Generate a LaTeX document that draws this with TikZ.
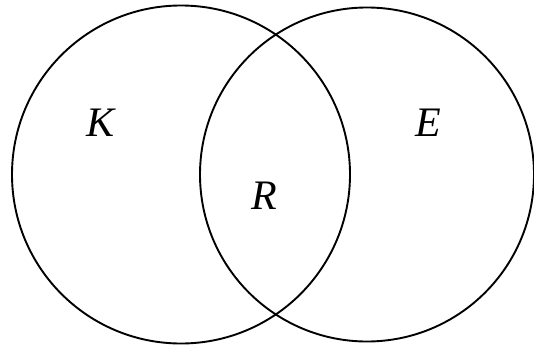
\documentclass[tikz,border=0pt]{standalone}
\usepackage{fontspec}
\setmainfont{Liberation Serif}
\begin{document}
\begin{tikzpicture}[x=1pt,y=-1pt,
  setcircle/.style={draw=black,line width=1.9pt},
  setlabel/.style={anchor=base,inner sep=0pt,font=\fontsize{42}{50}\selectfont\itshape}]
\useasboundingbox (0,0) rectangle (534,350);
\node[setcircle,circle,minimum size=338pt,inner sep=0pt] (left) at (181,174.5) {};
\node[setcircle,circle,minimum size=334pt,inner sep=0pt] (right) at (367,174.5) {};
\node[setlabel] (K) at (101,136) {K};
\node[setlabel] (E) at (428,136) {E};
\node[setlabel] (R) at (264,209) {R};
\end{tikzpicture}
\end{document}
